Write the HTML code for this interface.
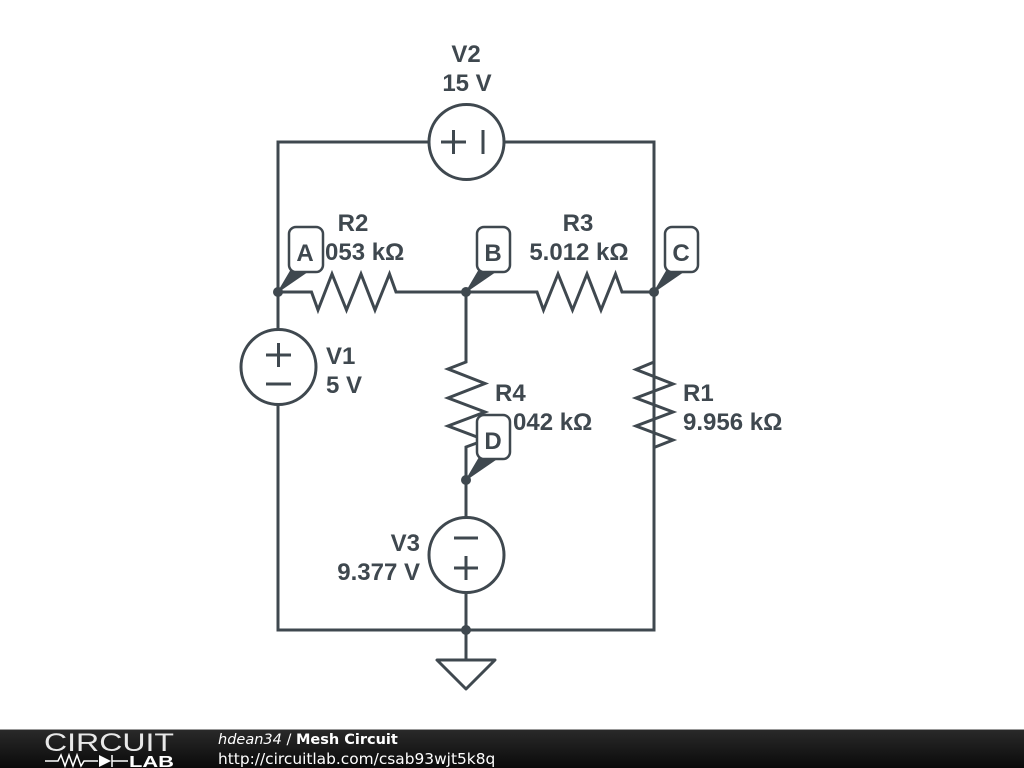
<!DOCTYPE html>
<html><head><meta charset="utf-8"><style>
html,body{margin:0;padding:0;background:#fff;width:1024px;height:768px;overflow:hidden}
svg{display:block}
.l{font:bold 24px "Liberation Sans",sans-serif;fill:#3f484f}
.f{font:14.5px "DejaVu Sans",sans-serif;fill:#fff}
</style></head><body>
<svg width="1024" height="768" viewBox="0 0 1024 768">
<defs><linearGradient id="g" x1="0" y1="0" x2="0" y2="1"><stop offset="0" stop-color="#2a2a2a"/><stop offset="1" stop-color="#0a0a0a"/></linearGradient></defs>
<g fill="none" stroke="#3f484f" stroke-width="3" stroke-linejoin="miter">
<path d="M428 142H278V630H654V142H504"/>
<path d="M278 292H311.500L318 310L332 274L346.500 310L361 274L375 310L389.500 274L396 292H537L543.500 310L558 274L572.500 310L587 274L601 310L615.500 274L622 292H654"/>
<path d="M466 292V362L448 369L485 383.500L448 398L485 412L448 426L485 440L466 447V518"/>
<path d="M654 292V362L636 369.500L673 384L636 398L673 412L636 426L673 440L654 447.500V630"/>
<path d="M466 592V660"/>
<circle cx="466.500" cy="142" r="37.500" fill="#fff"/>
<circle cx="278.500" cy="367" r="37.500" fill="#fff"/>
<circle cx="466.500" cy="555" r="37.500" fill="#fff"/>
<path d="M441 142H466M453.500 130V154M483 130V154M266 355H291M278.500 343V367M266 384H291M454 538H478M454 568H478M466 556V580"/>
<path d="M437 660H495L466 689Z" stroke-linejoin="round"/>
</g>
<g fill="#3f484f" stroke="#3f484f" stroke-width="1" stroke-linejoin="round">
<circle cx="278" cy="292" r="4.500"/><circle cx="466" cy="292" r="4.500"/><circle cx="654" cy="292" r="4.500"/><circle cx="466" cy="480" r="4.500"/><circle cx="466" cy="630" r="4.500"/>
<path d="M278 292L291 270H310Z"/><path d="M466 292L479 270H498Z"/><path d="M654 292L667 270H686Z"/><path d="M466 480L479 458H498Z"/>
</g>
<g fill="#fff" stroke="#3f484f" stroke-width="2.500">
<rect x="289" y="227" width="34" height="45" rx="7"/><rect x="477" y="227" width="33" height="45" rx="7"/><rect x="665" y="227" width="33" height="45" rx="7"/><rect x="477" y="415" width="33" height="44" rx="7"/>
</g>
<g text-anchor="middle">
<text class="l" x="466" y="62">V2</text><text class="l" x="467" y="91">15 V</text>
<text class="l" x="353" y="231">R2</text>
<text class="l" x="578" y="231">R3</text><text class="l" x="579" y="260">5.012 kΩ</text>
<text class="l" x="305" y="261">A</text><text class="l" x="493" y="261">B</text><text class="l" x="681" y="261">C</text><text class="l" x="493" y="449">D</text>
</g>
<text class="l" x="325" y="260">053 kΩ</text>
<text class="l" x="326" y="364">V1</text><text class="l" x="326" y="393">5 V</text>
<text class="l" x="495" y="401">R4</text><text class="l" x="513" y="430">042 kΩ</text>
<text class="l" x="683" y="401">R1</text><text class="l" x="683" y="430">9.956 kΩ</text>
<text class="l" x="420" y="551" text-anchor="end">V3</text><text class="l" x="420" y="580" text-anchor="end">9.377 V</text>
<rect x="0" y="729" width="1024" height="39" fill="url(#g)"/>
<rect x="0" y="729" width="1024" height="1" fill="#999"/>
<text x="44" y="751" font-family="'Liberation Sans',sans-serif" font-size="25" fill="#e8e8e8" textLength="130" lengthAdjust="spacingAndGlyphs">CIRCUIT</text>
<path d="M45 761H58L61 755L65 766L69 755L73 766L77 755L81 766L84 761H98M112 755V767M112 761H128" fill="none" stroke="#fff" stroke-width="1.500"/>
<path d="M99 755L111 761L99 767Z" fill="#fff"/>
<text x="129" y="767" font-family="'Liberation Sans',sans-serif" font-size="16" font-weight="bold" fill="#fff" textLength="45" lengthAdjust="spacingAndGlyphs">LAB</text>
<text class="f" x="218" y="744"><tspan font-style="italic">hdean34</tspan> / <tspan font-weight="bold">Mesh Circuit</tspan></text>
<text class="f" x="218" y="764" style="font-size:15.4px">http://circuitlab.com/csab93wjt5k8q</text>
</svg>
</body></html>
